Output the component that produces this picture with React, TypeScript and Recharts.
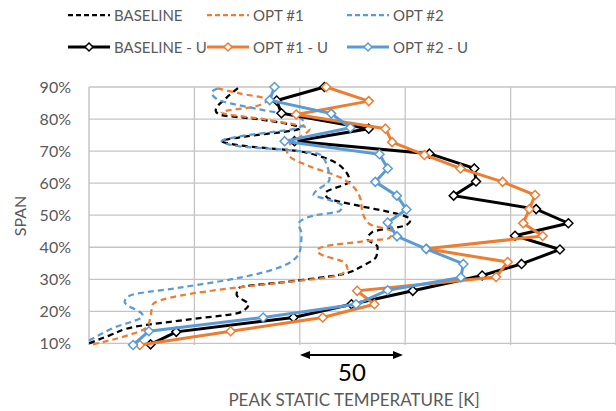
import React from 'react';
import { ScatterChart, Scatter, XAxis, YAxis, CartesianGrid, ReferenceLine } from 'recharts';

// peak static temperature (K, relative) vs span (%)
const BASE_K = [0.1, 9.8, 22.6, 47.7, 71.4, 75.7, 70.0, 71.4, 95.1, 118.8, 129.8, 136.4, 136.9, 132.1, 134.5, 150.6, 152.5, 149.6, 142.5, 128.3, 112.7, 112.2, 123.6, 121.7, 109.4, 99.9, 71.4, 62.9, 71.4, 99.9, 80.9, 61.9, 60.1, 65.3, 71.4];
const BASE_SPAN = [10.0, 12.5, 15.3, 17.5, 19.6, 22.1, 25.2, 27.4, 29.3, 31.4, 34.2, 37.3, 40.1, 42.6, 44.8, 46.9, 48.5, 49.8, 51.0, 52.9, 55.7, 56.9, 60.6, 63.7, 68.4, 69.9, 71.8, 73.1, 74.3, 77.1, 79.9, 81.4, 82.7, 86.7, 90.0];

const OPT1_K = [1.8, 16.9, 27.8, 29.2, 30.2, 43.0, 70.0, 90.4, 117.4, 122.6, 121.2, 109.4, 108.4, 112.7, 128.3, 142.5, 143.9, 133.0, 129.7, 128.8, 125.0, 118.8, 104.6, 95.1, 93.7, 99.9, 104.6, 83.3, 62.9, 78.5, 84.7, 71.4, 59.6];
const OPT1_SPAN = [9.7, 12.2, 15.3, 18.4, 22.1, 24.9, 27.4, 28.9, 31.1, 33.3, 35.2, 38.0, 39.2, 40.4, 41.7, 42.9, 44.8, 47.3, 51.0, 55.0, 59.1, 61.9, 65.3, 68.4, 70.6, 74.3, 76.8, 79.9, 82.1, 83.9, 86.1, 88.0, 89.8];

const OPT2_K = [0, 11.2, 25.5, 16.9, 19.3, 43.0, 66.7, 85.7, 96.6, 100.3, 100.8, 99.4, 106.0, 118.8, 120.3, 112.7, 106.5, 114.1, 112.7, 109.4, 95.1, 71.4, 62.9, 71.4, 98.5, 102.2, 99.9, 80.9, 61.0, 58.2, 62.0];
const OPT2_SPAN = [10.9, 14.7, 18.7, 23.0, 24.9, 27.4, 29.9, 32.7, 35.8, 39.5, 44.2, 47.3, 49.8, 51.3, 52.9, 55.0, 56.3, 61.2, 65.9, 69.0, 70.3, 71.5, 73.1, 74.6, 77.1, 78.6, 80.5, 83.0, 86.1, 88.3, 89.8];

const BASE_U_K = [29.2, 41.4, 97.0, 124.5, 153.6, 186.5, 205.2, 223.4, 202.1, 227.4, 212.1, 173.0, 183.6, 182.8, 161.5, 97.5, 132.7, 91.3, 89.0, 111.7];
const BASE_U_SPAN = [9.7, 13.6, 18.1, 22.2, 26.4, 31.2, 34.8, 39.3, 43.6, 47.5, 51.9, 56.1, 60.5, 64.6, 69.2, 73.1, 77.0, 81.8, 85.8, 90.0];

const OPT1_U_K = [24.1, 67.2, 110.9, 135.4, 127.2, 193.1, 198.6, 160.1, 215.2, 206.0, 208.9, 211.6, 196.2, 176.2, 159.1, 143.8, 140.6, 98.3, 132.7, 112.5];
const OPT1_U_SPAN = [9.5, 13.8, 18.1, 22.2, 26.4, 30.7, 35.4, 39.5, 43.5, 47.5, 51.9, 56.3, 60.4, 64.6, 68.8, 72.8, 77.0, 81.4, 85.6, 90.0];

const OPT2_U_K = [20.9, 28.4, 82.6, 126.7, 141.7, 176.4, 177.6, 159.9, 146.1, 141.7, 150.6, 146.0, 135.8, 141.7, 137.8, 92.8, 124.0, 114.9, 85.7, 88.0];
const OPT2_U_SPAN = [9.5, 13.8, 18.1, 22.2, 26.6, 30.6, 34.8, 39.5, 43.4, 47.7, 51.8, 56.1, 60.4, 64.6, 69.0, 73.1, 77.3, 81.7, 85.9, 90.0];

const X_TICKS = [0, 10, 20, 30, 40, 50, 60, 70, 80, 90, 100, 110, 120, 130, 140, 150, 160, 170, 180, 190, 200, 210, 220, 230, 240, 250];
const X_MAJOR = [0, 50, 100, 150, 200, 250];
const Y_TICKS = [10, 20, 30, 40, 50, 60, 70, 80, 90];

const BLACK = '#000000';
const ORANGE = '#ED7D31';
const BLUE = '#5B9BD5';
const FONT = 'Lato, "Open Sans", sans-serif';

const pts = (ks: number[], spans: number[]) => ks.map((k, i) => ({ k, span: spans[i] }));

const series = [
  { name: 'BASELINE', data: pts(BASE_K, BASE_SPAN), color: BLACK, dashed: true },
  { name: 'OPT #1', data: pts(OPT1_K, OPT1_SPAN), color: ORANGE, dashed: true },
  { name: 'OPT #2', data: pts(OPT2_K, OPT2_SPAN), color: BLUE, dashed: true },
  { name: 'BASELINE - U', data: pts(BASE_U_K, BASE_U_SPAN), color: BLACK, dashed: false },
  { name: 'OPT #1 - U', data: pts(OPT1_U_K, OPT1_U_SPAN), color: ORANGE, dashed: false },
  { name: 'OPT #2 - U', data: pts(OPT2_U_K, OPT2_U_SPAN), color: BLUE, dashed: false },
];

const Diamond = (color: string) => (props: any) => {
  const { cx, cy } = props;
  if (cx == null || cy == null) return <g />;
  const r = 4.5;
  return (
    <path
      d={`M${cx},${cy - r}L${cx + r},${cy}L${cx},${cy + r}L${cx - r},${cy}Z`}
      fill="#fff"
      stroke={color}
      strokeWidth={1.5}
    />
  );
};

const NoDot = () => <g />;

const LegendItem = ({ x, y, name, color, dashed }: any) => (
  <g>
    <line x1={x} y1={y} x2={x + 42} y2={y} stroke={color} strokeWidth={dashed ? 2.25 : 3} strokeDasharray={dashed ? '5 3' : undefined} />
    {!dashed && (
      <path d={`M${x + 21},${y - 4}L${x + 25},${y}L${x + 21},${y + 4}L${x + 17},${y}Z`} fill="#fff" stroke={color} strokeWidth={1.5} />
    )}
    <text x={x + 46} y={y + 5.5} fontSize={15} fill="#595959" fontFamily={FONT}>{name}</text>
  </g>
);

const LEGEND_X = [68, 207, 347];
const LEGEND_Y = [15, 47];

export default function App() {
  return (
    <div style={{ position: 'absolute', left: 0, top: 0, width: 616, height: 411, background: '#fff', overflow: 'hidden' }}>
      <ScatterChart width={616} height={411} margin={{ top: 87, right: 0, bottom: 66, left: 0 }}>
        <CartesianGrid horizontal={false} stroke="#dedede" strokeWidth={1} />
        <XAxis
          type="number"
          dataKey="k"
          domain={[0, 250]}
          ticks={X_TICKS}
          tick={false}
          tickLine={false}
          axisLine={false}
          height={0}
        />
        <YAxis
          type="number"
          dataKey="span"
          domain={[10, 90]}
          ticks={Y_TICKS}
          tickFormatter={(v: number) => `${v}%`}
          tick={{ fill: '#595959', fontSize: 16, fontFamily: FONT }}
          tickLine={false}
          tickSize={0}
          tickMargin={18}
          axisLine={false}
          width={89}
        />
        {X_MAJOR.map((v) => (
          <ReferenceLine key={'x' + v} x={v} stroke="#c4c4c4" strokeWidth={1.3} />
        ))}
        {Y_TICKS.map((v) => (
          <ReferenceLine key={'y' + v} y={v} stroke="#c4c4c4" strokeWidth={1.3} />
        ))}
        {series.map((s) => (
          <Scatter
            key={s.name}
            name={s.name}
            data={s.data}
            fill={s.color}
            isAnimationActive={false}
            lineJointType={s.dashed ? 'monotoneY' : 'linear'}
            line={{ stroke: s.color, strokeWidth: s.dashed ? 2.25 : 3, strokeDasharray: s.dashed ? '6 4' : undefined }}
            shape={s.dashed ? NoDot : Diamond(s.color)}
          />
        ))}
      </ScatterChart>
      <svg width={616} height={411} style={{ position: 'absolute', left: 0, top: 0, pointerEvents: 'none' }}>
        {series.map((s, i) => (
          <LegendItem
            key={s.name}
            x={LEGEND_X[i % 3]}
            y={LEGEND_Y[Math.floor(i / 3)]}
            name={s.name}
            color={s.color}
            dashed={s.dashed}
          />
        ))}
        <text transform="translate(26,216) rotate(-90)" textAnchor="middle" fontSize={16} fill="#595959" fontFamily={FONT}>SPAN</text>
        <line x1={305} y1={355} x2={398} y2={355} stroke="#000" strokeWidth={2} />
        <path d="M300,355L310,351L310,359Z" fill="#000" />
        <path d="M403,355L393,351L393,359Z" fill="#000" />
        <text x={352} y={381} textAnchor="middle" fontSize={24} fill="#000" fontFamily={FONT}>50</text>
        <text x={354} y={406} textAnchor="middle" fontSize={17} fill="#595959" fontFamily={FONT}>PEAK STATIC TEMPERATURE [K]</text>
      </svg>
    </div>
  );
}
